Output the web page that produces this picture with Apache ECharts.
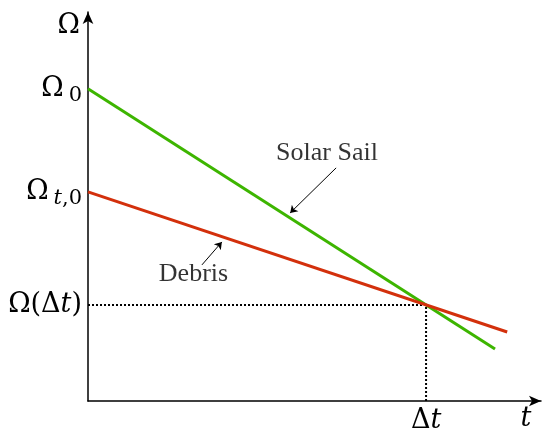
<!DOCTYPE html>
<html>
<head>
<meta charset="utf-8">
<style>
  html, body { margin: 0; padding: 0; background: #fff; }
  #chart { width: 543px; height: 430px; }
</style>
<script src="https://cdn.jsdelivr.net/npm/echarts@6/dist/echarts.min.js"></script>
</head>
<body>
<div id="chart"></div>
<script>
// Time in units of Δt, angular rate in units of Ω(Δt)
const times = [0, 1.204];
const timesDebris = [0, 1.240];
const solarSail = [3.25, 0.541];
const debris = [2.177, 0.718];
const crossing = [1, 1];            // (Δt, Ω(Δt))
const yTicks = [1, 2.177, 3.25];    // Ω(Δt), Ω_t,0, Ω_0
const yTickLabels = ['{a|Ω(Δ}{i|t}{a|)}', '{a|Ω}{si|t}{s|,0}', '{a|Ω}{sg|0}'];
const xTicks = [1];
const xTickLabels = ['{a|Δ}{i|t}'];

// Annotation text and arrow anchors
const notes = [
  { text: 'Solar Sail', at: [0.707, 2.583], from: [0.734, 2.427], to: [0.598, 1.958] },
  { text: 'Debris', at: [0.312, 1.323], from: [0.337, 1.417], to: [0.396, 1.656] }
];

const mathFont = 'DejaVu Serif';
const textFont = 'Liberation Serif';

const chart = echarts.init(document.getElementById('chart'));

function lookup(v, ticks, labels) {
  for (let i = 0; i < ticks.length; i++) {
    if (Math.abs(ticks[i] - v) < 1e-6) return labels[i];
  }
  return '';
}

const mathRich = {
  a: { fontFamily: mathFont, fontSize: 27, color: '#000' },
  i: { fontFamily: mathFont, fontSize: 27, fontStyle: 'italic', color: '#000' },
  s: { fontFamily: mathFont, fontSize: 21, color: '#000', padding: [14, 0, 0, 0] },
  sg: { fontFamily: mathFont, fontSize: 21, color: '#000', padding: [14, 0, 0, 5] },
  si: { fontFamily: mathFont, fontSize: 21, fontStyle: 'italic', color: '#000', padding: [14, 0, 0, 5] }
};

const axisLineStyle = { color: '#000', width: 1.5 };

chart.setOption({
  animation: false,
  backgroundColor: '#fff',
  grid: { left: 88, top: 12, width: 453, height: 389, outerBoundsMode: 'none', containLabel: false },
  xAxis: {
    type: 'value', min: 0, max: 1.34,
    axisLine: { show: true, symbol: ['none', 'arrow'], symbolSize: [8, 12], lineStyle: axisLineStyle },
    axisTick: { show: false },
    splitLine: { show: false },
    axisLabel: {
      customValues: xTicks,
      formatter: v => lookup(v, xTicks, xTickLabels),
      margin: 6,
      rich: mathRich
    },
    name: 't',
    nameLocation: 'end',
    nameGap: -15,
    nameTextStyle: { fontFamily: mathFont, fontSize: 27, fontStyle: 'italic', color: '#000', align: 'center', verticalAlign: 'top', padding: [4, 0, 0, 0] }
  },
  yAxis: {
    type: 'value', min: 0, max: 4.05,
    axisLine: { show: true, symbol: ['none', 'arrow'], symbolSize: [8, 12], lineStyle: axisLineStyle },
    axisTick: { show: false },
    splitLine: { show: false },
    axisLabel: {
      customValues: yTicks,
      formatter: v => lookup(v, yTicks, yTickLabels),
      margin: 6,
      rich: mathRich
    },
    name: 'Ω',
    nameLocation: 'end',
    nameGap: -14,
    nameTextStyle: { fontFamily: mathFont, fontSize: 27, color: '#000', align: 'right', verticalAlign: 'middle', padding: [0, 8, 0, 0] }
  },
  series: [
    {
      name: 'Solar Sail', type: 'line', symbol: 'none',
      data: times.map((t, k) => [t, solarSail[k]]),
      lineStyle: { color: '#3db500', width: 3 }, z: 3
    },
    {
      name: 'Debris', type: 'line', symbol: 'none',
      data: timesDebris.map((t, k) => [t, debris[k]]),
      lineStyle: { color: '#d3300c', width: 3 }, z: 4
    },
    {
      name: 'guide', type: 'line', symbol: 'none',
      data: [[0, crossing[1]], crossing, [crossing[0], 0]],
      lineStyle: { color: '#000', width: 2, type: [2, 2] }, z: 2
    },
    {
      name: 'pointers', type: 'lines', coordinateSystem: 'cartesian2d',
      symbol: ['none', 'arrow'], symbolSize: 7,
      lineStyle: { color: '#000', width: 1, opacity: 1 },
      data: notes.map(n => ({ coords: [n.from, n.to] })), z: 5
    },
    {
      name: 'notes', type: 'scatter', symbolSize: 0,
      data: notes.map(n => ({ value: n.at, name: n.text })),
      label: {
        show: true, position: 'inside', formatter: p => p.name,
        fontFamily: textFont, fontSize: 26, color: '#000'
      },
      silent: true, z: 6
    }
  ]
});
</script>
</body>
</html>
